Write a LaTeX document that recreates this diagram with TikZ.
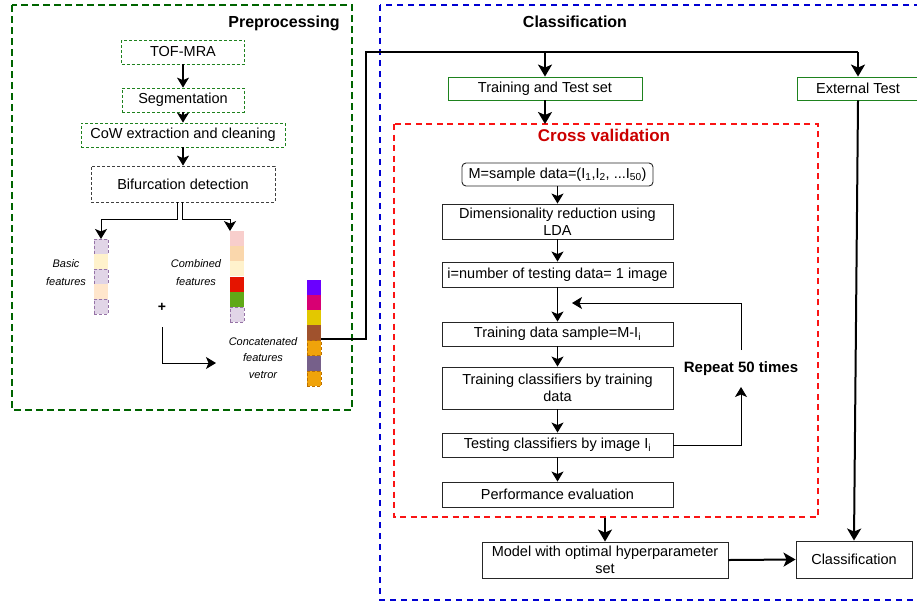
\documentclass[tikz,border=0pt]{standalone}
\usepackage{fontspec}
\setmainfont{Liberation Sans}
\usetikzlibrary{arrows.meta,calc}
\definecolor{pregreen}{RGB}{0,100,0}
\definecolor{boxgreen}{RGB}{30,130,30}
\definecolor{bluedash}{RGB}{0,0,210}
\definecolor{reddash}{RGB}{250,20,20}
\definecolor{cvred}{RGB}{204,0,0}
\definecolor{cpurple}{HTML}{E1D5E7}
\definecolor{cpurpleb}{HTML}{9673A6}
\definecolor{cyellow}{HTML}{FFF2CC}
\definecolor{cpeach}{HTML}{FFE6CC}
\definecolor{cpink}{HTML}{F8CECC}
\definecolor{corange}{HTML}{FAD7AC}
\definecolor{cred}{HTML}{E51400}
\definecolor{cgreen}{HTML}{60A917}
\definecolor{cviolet}{HTML}{6A00FF}
\definecolor{cmagenta}{HTML}{D80073}
\definecolor{cgold}{HTML}{E3C800}
\definecolor{cbrown}{HTML}{A0522D}
\definecolor{camber}{HTML}{F0A30A}
\definecolor{camberb}{HTML}{BD7000}
\definecolor{cmauve}{HTML}{76608A}
\tikzset{
  txt/.style={font=\fontsize{14.5}{17}\selectfont},
  prebox/.style={draw=boxgreen, densely dashed, line width=0.8pt, txt, inner sep=0pt},
  bifbox/.style={draw=black!75, densely dashed, line width=0.8pt, txt, inner sep=0pt},
  flowbox/.style={draw=black!85, line width=0.9pt, txt, inner sep=0pt, align=center},
  greenbox/.style={draw=boxgreen, line width=0.9pt, txt, inner sep=0pt},
  title/.style={font=\fontsize{16}{18}\selectfont\bfseries},
  small/.style={font=\fontsize{11}{18}\selectfont\itshape, align=center},
  arr/.style={line width=1.3pt, -{Stealth[length=10pt,width=12pt,inset=2.5pt]}},
  thinarr/.style={line width=1pt, -{Stealth[length=10pt,width=12pt,inset=2.5pt]}},
  thickarr/.style={line width=2pt, -{Stealth[length=12pt,width=14pt,inset=3pt]}},
  thickline/.style={line width=2pt},
  cell/.style={minimum width=14pt, minimum height=15.1pt, inner sep=0pt, outer sep=0pt},
  dcell/.style={cell, draw=cpurpleb, densely dashed, line width=0.7pt},
}
\begin{document}
\begin{tikzpicture}[x=1pt,y=-1pt]
\useasboundingbox (0,0) rectangle (917,606);
\clip (0,0) rectangle (917,606);

% frames
\draw[pregreen, line width=2pt, dash pattern=on 7pt off 4pt] (12,5) rectangle (352,410);
\draw[bluedash, line width=1.8pt, dash pattern=on 6pt off 5pt] (380,5) rectangle (935,600);
\draw[reddash, line width=1.8pt, dash pattern=on 6pt off 4.5pt] (394,124) rectangle (818,517);

\node[title] (pretitle) at (284,23) {Preprocessing};
\node[title] (clstitle) at (575,22) {Classification};
\node[title, text=cvred, font=\fontsize{17}{19}\selectfont\bfseries] (cvtitle) at (604,135) {Cross validation};

% preprocessing chain
\node[prebox, minimum width=123pt, minimum height=24pt] (tof) at (183,52) {TOF-MRA};
\node[prebox, minimum width=122pt, minimum height=24pt] (seg) at (183,100) {Segmentation};
\node[prebox, minimum width=204pt, minimum height=24pt] (cow) at (183,135) {CoW extraction and cleaning};
\node[bifbox, minimum width=184pt, minimum height=36pt] (bif) at (183,184) {Bifurcation detection};
\draw[arr] (tof) -- (seg);
\draw[arr] (seg) -- (cow);
\draw[arr] (cow) -- (bif);

% basic features vector
\node[dcell, fill=cpurple] (b1) at (101,246.5) {};
\node[cell, fill=cyellow] (b2) at (101,261.5) {};
\node[dcell, fill=cpurple] (b3) at (101,276.5) {};
\node[cell, fill=cpeach] (b4) at (101,291.5) {};
\node[dcell, fill=cpurple] (b5) at (101,306.5) {};

% combined features vector
\node[cell, fill=cpink] (m1) at (237,238.6) {};
\node[cell, fill=corange] (m2) at (237,253.8) {};
\node[cell, fill=cyellow] (m3) at (237,268.9) {};
\node[cell, fill=cred] (m4) at (237,284.1) {};
\node[cell, fill=cgreen] (m5) at (237,299.3) {};
\node[dcell, fill=cpurple] (m6) at (237,314.4) {};

% concatenated vector
\node[cell, fill=cviolet] (c1) at (314,287.6) {};
\node[cell, fill=cmagenta] (c2) at (314,302.7) {};
\node[cell, fill=cgold] (c3) at (314,317.9) {};
\node[cell, fill=cbrown] (c4) at (314,333) {};
\node[cell, fill=camber, draw=camberb, densely dashed, line width=0.7pt] (c5) at (314,348.2) {};
\node[cell, fill=cmauve] (c6) at (314,363.3) {};
\node[cell, fill=camber, draw=camberb, densely dashed, line width=0.7pt] (c7) at (314,378.4) {};

\node[small] (basiclbl) at (66,273) {Basic\\features};
\node[small] (comblbl) at (196,273) {Combined\\features};
\node[small, font=\fontsize{11}{16.5}\selectfont\itshape] (concatlbl) at (263,358) {Concatenated\\features\\vetror};
\node[font=\fontsize{14}{16}\selectfont\bfseries] (plus) at (162,307) {+};

% branches from bifurcation
\coordinate (bl) at ($(bif.south)+(-6,0)$);
\coordinate (br) at ($(bif.south)+(-1,0)$);
\draw[thinarr] (bl) |- (101,219) -- (b1.north);
\draw[thinarr] (br) |- (230,219) -- (m1.north west);
\coordinate (plusarr) at (162,327);
\coordinate (plusend) at (216,363);
\draw[thinarr] (plusarr) |- (plusend);

% thick connector to classification
\coordinate (cstart) at (321,339);
\coordinate (jv) at (366,52);
\coordinate (jt) at (545,52);
\coordinate (je) at (858,52);
\draw[thickline] (cstart) -| (jv) -- (je);

\node[greenbox, minimum width=194pt, minimum height=23pt] (train) at (545,88.5) {Training and Test set};
\node[greenbox, minimum width=122pt, minimum height=23pt] (ext) at (858,88.5) {External Test};
\draw[thickarr] (jt) -- (train.north);
\draw[thickarr] (je) -- (ext.north);
\coordinate (cvtop) at (545,124);
\draw[thickarr] (train.south) -- (cvtop);

% cross validation flow
\node[flowbox, rounded corners=4pt, minimum width=191pt, minimum height=23pt] (msd) at (557.5,174.5) {M=sample data=(I\textsubscript{1},I\textsubscript{2}, ...I\textsubscript{50})};
\node[flowbox, minimum width=231pt, minimum height=35pt] (dim) at (557.5,221.5) {Dimensionality reduction using\\LDA};
\node[flowbox, minimum width=231pt, minimum height=25pt] (inum) at (557.5,274.5) {i=number of testing data= 1 image};
\node[flowbox, minimum width=231pt, minimum height=24pt] (tds) at (557.5,334) {Training data sample=M-I\textsubscript{i}};
\node[flowbox, minimum width=231pt, minimum height=42pt] (tcl) at (557.5,388) {Training classifiers by training\\data};
\node[flowbox, minimum width=231pt, minimum height=24pt] (tst) at (557.5,445) {Testing classifiers by image I\textsubscript{i}};
\node[flowbox, minimum width=231pt, minimum height=25pt] (perf) at (557.5,494.5) {Performance evaluation};

\draw[arr] (msd) -- (dim);
\draw[arr] (dim) -- (inum);
\draw[arr] (inum) -- (tds);
\draw[arr] (tds) -- (tcl);
\draw[arr] (tcl) -- (tst);
\draw[arr] (tst) -- (perf);

\node[font=\fontsize{15}{17}\selectfont\bfseries] (rep) at (741,369) {Repeat 50 times};
\coordinate (repbot) at (741,387);
\coordinate (reptop) at (741,350);
\coordinate (loopend) at (572,303);
\draw[thinarr] (tst.east) -| (repbot);
\draw[thinarr] (reptop) |- (loopend);

% bottom row
\node[flowbox, minimum width=246pt, minimum height=36pt] (model) at (605,560) {Model with optimal hyperparameter\\set};
\node[flowbox, minimum width=116pt, minimum height=37pt] (cls) at (854,559.5) {Classification};
\coordinate (cvbot) at (605,518);
\draw[thickarr] (cvbot) -- (model.north);
\draw[thickarr] (model.east) -- (cls.west);
\draw[thickarr] (ext.south) -- (cls.north);
\end{tikzpicture}
\end{document}
